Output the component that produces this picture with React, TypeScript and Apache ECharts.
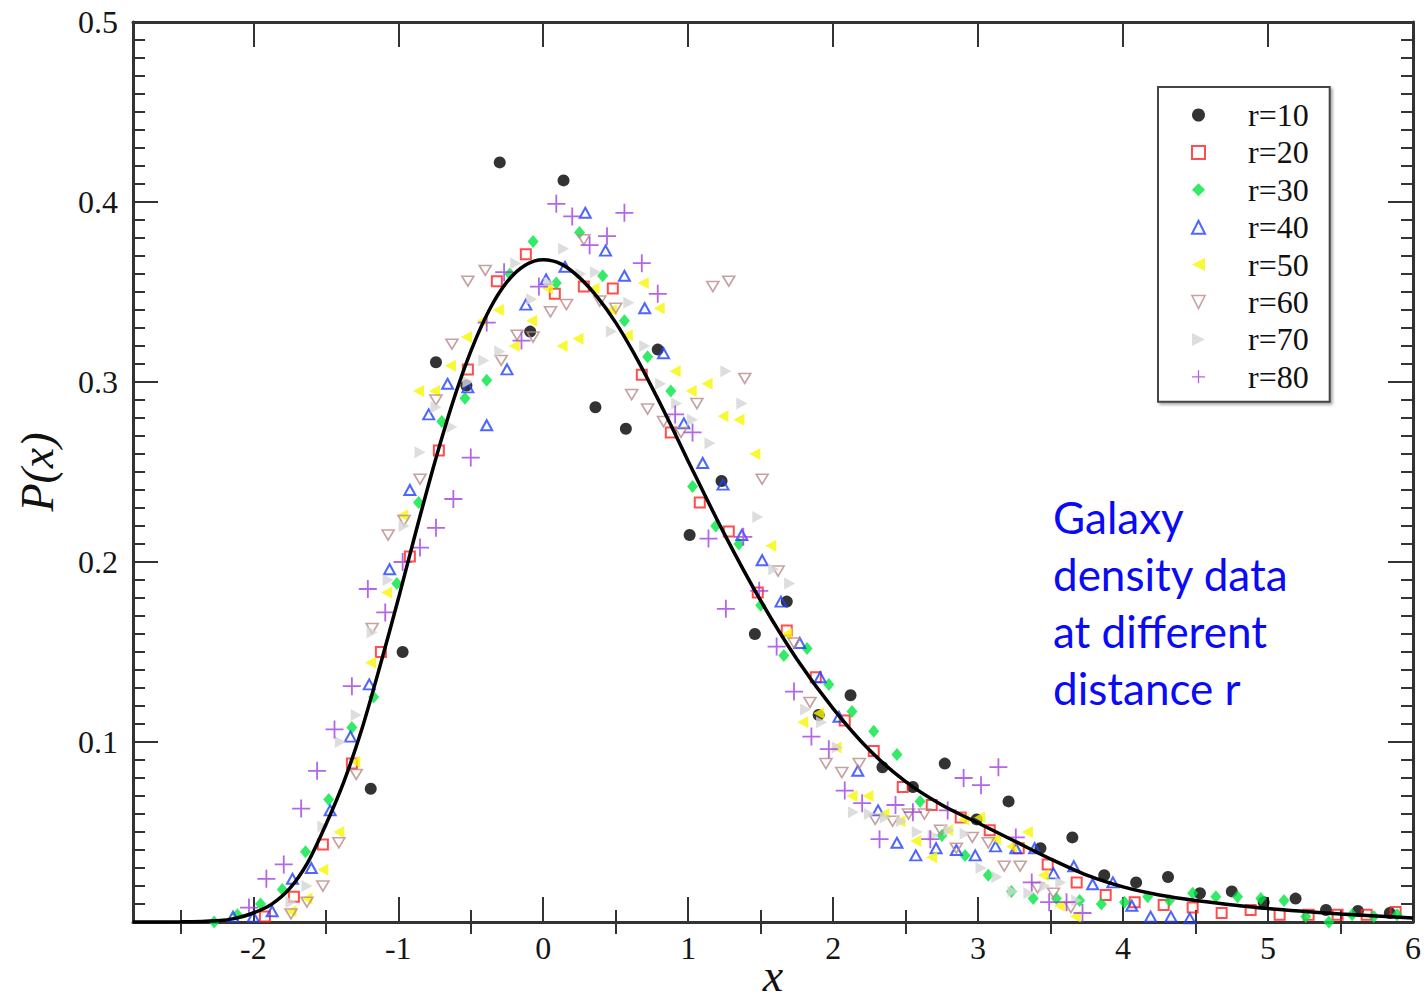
import React, { useEffect, useRef } from "react";
import * as echarts from "echarts";

const X_MIN = -2.83;
const X_MAX = 6;
const xMajor = [-2, -1, 0, 1, 2, 3, 4, 5, 6];
const xMinor = [-2.5, -1.5, -0.5, 0.5, 1.5, 2.5, 3.5, 4.5, 5.5];
const yLabels = [0.1, 0.2, 0.3, 0.4, 0.5];

const curve: [number, number][] = [
  [-2.83, 0], [-2.5, 0.0001], [-2.25, 0.0007], [-2.125, 0.002], [-2, 0.005], [-1.875, 0.0098],
  [-1.75, 0.0185], [-1.625, 0.033], [-1.5, 0.054], [-1.375, 0.078], [-1.25, 0.1075], [-1.125, 0.1425],
  [-1, 0.1794], [-0.875, 0.2179], [-0.75, 0.2549], [-0.625, 0.2885], [-0.5, 0.317], [-0.375, 0.3396],
  [-0.25, 0.3556], [-0.125, 0.3649], [0, 0.3679], [0.125, 0.3655], [0.25, 0.358], [0.375, 0.347],
  [0.5, 0.333], [0.625, 0.316], [0.75, 0.297], [0.875, 0.277], [1, 0.256], [1.25, 0.2155],
  [1.5, 0.1785], [1.75, 0.146], [2, 0.1185], [2.25, 0.0955], [2.5, 0.078], [2.75, 0.065],
  [3, 0.055], [3.25, 0.045], [3.5, 0.035], [3.75, 0.026], [4, 0.0195], [4.25, 0.015],
  [4.5, 0.012], [5, 0.0075], [5.5, 0.0045], [6, 0.0022],
];

const r10: [number, number][] = [
  [-1.19, 0.074], [-0.97, 0.15], [-0.74, 0.311], [-0.53, 0.298], [-0.3, 0.422], [-0.09, 0.328],
  [0.14, 0.412], [0.36, 0.286], [0.57, 0.274], [0.79, 0.318], [1.01, 0.215], [1.23, 0.245],
  [1.46, 0.16], [1.68, 0.178], [1.9, 0.115], [2.12, 0.126], [2.34, 0.086], [2.55, 0.075],
  [2.77, 0.088], [2.99, 0.057], [3.21, 0.067], [3.43, 0.041], [3.65, 0.047], [3.87, 0.026],
  [4.09, 0.022], [4.31, 0.025], [4.53, 0.016], [4.75, 0.017], [4.97, 0.011], [5.19, 0.013],
  [5.4, 0.0067], [5.62, 0.0061], [5.84, 0.005],
];

const r20: [number, number][] = [
  [-1.92, 0.003], [-1.72, 0.014], [-1.52, 0.043], [-1.32, 0.088], [-1.12, 0.15], [-0.92, 0.203],
  [-0.72, 0.262], [-0.52, 0.307], [-0.32, 0.356], [-0.12, 0.371], [0.08, 0.349], [0.28, 0.353],
  [0.48, 0.352], [0.68, 0.304], [0.88, 0.272], [1.08, 0.233], [1.28, 0.217], [1.48, 0.183],
  [1.68, 0.162], [1.88, 0.136], [2.08, 0.112], [2.28, 0.095], [2.48, 0.075], [2.68, 0.065],
  [2.88, 0.058], [3.08, 0.051], [3.28, 0.041], [3.48, 0.032], [3.68, 0.022], [3.88, 0.015],
  [4.08, 0.011], [4.28, 0.0095], [4.48, 0.008], [4.68, 0.005], [4.88, 0.0067], [5.08, 0.004],
  [5.28, 0.004], [5.48, 0.004], [5.68, 0.004], [5.88, 0.0056],
];

const r30: [number, number][] = [
  [-2.27, 0.0], [-2.11, 0.004], [-1.95, 0.01], [-1.8, 0.018], [-1.64, 0.039], [-1.48, 0.068],
  [-1.32, 0.108], [-1.17, 0.125], [-1.01, 0.188], [-0.86, 0.233], [-0.7, 0.278], [-0.54, 0.291],
  [-0.39, 0.301], [-0.23, 0.36], [-0.07, 0.378], [0.09, 0.355], [0.25, 0.383], [0.41, 0.359],
  [0.56, 0.334], [0.72, 0.314], [0.88, 0.295], [1.03, 0.242], [1.19, 0.22], [1.35, 0.21],
  [1.5, 0.176], [1.66, 0.148], [1.82, 0.152], [1.97, 0.132], [2.13, 0.117], [2.28, 0.106],
  [2.44, 0.093], [2.6, 0.067], [2.75, 0.048], [2.91, 0.037], [3.07, 0.026], [3.23, 0.017],
  [3.38, 0.013], [3.54, 0.013], [3.7, 0.012], [3.85, 0.01], [4.01, 0.011], [4.17, 0.014],
  [4.32, 0.012], [4.48, 0.016], [4.64, 0.014], [4.79, 0.014], [4.95, 0.013], [5.11, 0.012],
  [5.26, 0.003], [5.42, 0.0], [5.58, 0.004], [5.73, 0.003], [5.89, 0.004],
];

const r40: [number, number][] = [
  [-2.14, 0.003], [-2.0, 0.003], [-1.87, 0.006], [-1.73, 0.024], [-1.6, 0.03], [-1.47, 0.062],
  [-1.33, 0.103], [-1.2, 0.132], [-1.06, 0.196], [-0.92, 0.24], [-0.79, 0.282], [-0.66, 0.299],
  [-0.52, 0.297], [-0.39, 0.276], [-0.25, 0.307], [-0.12, 0.343], [0.02, 0.357], [0.15, 0.364],
  [0.29, 0.394], [0.43, 0.373], [0.56, 0.359], [0.7, 0.341], [0.83, 0.316], [0.97, 0.277],
  [1.1, 0.255], [1.24, 0.243], [1.37, 0.215], [1.51, 0.201], [1.64, 0.178], [1.77, 0.155],
  [1.91, 0.136], [2.04, 0.114], [2.17, 0.084], [2.31, 0.062], [2.44, 0.044], [2.57, 0.037],
  [2.71, 0.041], [2.85, 0.04], [2.98, 0.037], [3.12, 0.042], [3.26, 0.041], [3.39, 0.041],
  [3.52, 0.027], [3.66, 0.031], [3.79, 0.021], [3.93, 0.022], [4.06, 0.009], [4.19, 0.003],
  [4.33, 0.003], [4.46, 0.002],
];

const r50: [number, number][] = [
  [-1.74, 0.006], [-1.63, 0.013], [-1.52, 0.029], [-1.41, 0.05], [-1.3, 0.089], [-1.19, 0.144],
  [-1.08, 0.183], [-0.97, 0.226], [-0.86, 0.295], [-0.75, 0.295], [-0.64, 0.309], [-0.53, 0.325],
  [-0.42, 0.334], [-0.31, 0.34], [-0.2, 0.32], [-0.08, 0.334], [0.03, 0.352], [0.13, 0.32],
  [0.24, 0.324], [0.35, 0.352], [0.47, 0.34], [0.58, 0.326], [0.69, 0.355], [0.8, 0.341],
  [0.91, 0.306], [1.02, 0.295], [1.13, 0.299], [1.24, 0.281], [1.35, 0.279], [1.46, 0.26],
  [1.57, 0.209], [1.68, 0.16], [1.79, 0.111], [1.9, 0.116], [2.02, 0.097], [2.13, 0.07],
  [2.24, 0.07], [2.35, 0.06], [2.46, 0.056], [2.57, 0.045], [2.68, 0.036], [2.79, 0.051],
  [2.9, 0.057], [3.01, 0.058], [3.12, 0.046], [3.23, 0.042], [3.34, 0.05], [3.45, 0.026],
  [3.56, 0.009], [3.67, 0.003],
];

const r60: [number, number][] = [
  [-1.74, 0.0045], [-1.63, 0.011], [-1.52, 0.02], [-1.41, 0.044], [-1.29, 0.082], [-1.18, 0.163],
  [-1.07, 0.215], [-0.96, 0.223], [-0.85, 0.246], [-0.74, 0.29], [-0.63, 0.321], [-0.52, 0.356],
  [-0.4, 0.362], [-0.29, 0.312], [-0.18, 0.326], [-0.07, 0.325], [0.05, 0.339], [0.16, 0.343],
  [0.28, 0.379], [0.39, 0.345], [0.5, 0.341], [0.61, 0.293], [0.72, 0.285], [0.83, 0.278],
  [0.95, 0.272], [1.06, 0.288], [1.17, 0.353], [1.28, 0.356], [1.39, 0.302], [1.51, 0.246],
  [1.62, 0.195], [1.73, 0.155], [1.84, 0.122], [1.95, 0.088], [2.06, 0.083], [2.18, 0.088],
  [2.29, 0.057], [2.41, 0.056], [2.52, 0.06], [2.63, 0.06], [2.74, 0.051], [2.85, 0.041],
  [2.96, 0.047], [3.07, 0.044], [3.18, 0.031], [3.29, 0.031], [3.41, 0.019], [3.52, 0.016],
  [3.64, 0.008],
];

const r70: [number, number][] = [
  [-1.74, 0.011], [-1.63, 0.02], [-1.52, 0.053], [-1.4, 0.1], [-1.29, 0.115], [-1.18, 0.161],
  [-1.07, 0.19], [-0.96, 0.22], [-0.85, 0.261], [-0.74, 0.286], [-0.63, 0.275], [-0.52, 0.3],
  [-0.41, 0.312], [-0.3, 0.317], [-0.19, 0.366], [-0.08, 0.346], [0.04, 0.355], [0.14, 0.374],
  [0.26, 0.36], [0.36, 0.361], [0.47, 0.328], [0.59, 0.344], [0.7, 0.32], [0.81, 0.299],
  [0.92, 0.288], [1.03, 0.279], [1.15, 0.266], [1.26, 0.306], [1.37, 0.288], [1.48, 0.225],
  [1.59, 0.196], [1.7, 0.188], [1.81, 0.118], [1.92, 0.111], [2.03, 0.097], [2.14, 0.061],
  [2.25, 0.06], [2.36, 0.058], [2.47, 0.056], [2.58, 0.05], [2.69, 0.048], [2.8, 0.051],
  [2.91, 0.049], [3.02, 0.03], [3.13, 0.025], [3.24, 0.017], [3.35, 0.016], [3.46, 0.02],
  [3.57, 0.022], [3.68, 0.012],
];

const r80: [number, number][] = [
  [-2.03, 0.008], [-1.91, 0.024], [-1.79, 0.032], [-1.67, 0.063], [-1.56, 0.084], [-1.44, 0.107],
  [-1.32, 0.131], [-1.21, 0.185], [-1.09, 0.172], [-0.97, 0.2], [-0.85, 0.208], [-0.74, 0.219],
  [-0.62, 0.235], [-0.5, 0.258], [-0.39, 0.333], [-0.27, 0.361], [-0.15, 0.323], [-0.03, 0.353],
  [0.09, 0.399], [0.2, 0.392], [0.32, 0.376], [0.44, 0.381], [0.56, 0.394], [0.68, 0.366],
  [0.79, 0.349], [0.91, 0.282], [1.03, 0.272], [1.14, 0.213], [1.26, 0.174], [1.38, 0.214],
  [1.49, 0.184], [1.61, 0.153], [1.73, 0.128], [1.85, 0.103], [1.97, 0.096], [2.08, 0.073],
  [2.2, 0.066], [2.32, 0.046], [2.43, 0.065], [2.55, 0.061], [2.67, 0.046], [2.79, 0.062],
  [2.9, 0.08], [3.02, 0.076], [3.14, 0.086], [3.26, 0.047], [3.37, 0.022], [3.49, 0.011],
  [3.61, 0.011], [3.72, 0.005],
];

const seriesNames = ["r=10", "r=20", "r=30", "r=40", "r=50", "r=60", "r=70", "r=80"];
const annotation = "Galaxy\ndensity data\nat different\ndistance r";

const AX = "#333";
const SERIF = "'Liberation Serif', 'Times New Roman', serif";
const CROSS = "path://M9,0H11V20H9ZM0,9H20V11H0Z";
const TRI_UP = "path://M5,0L10,10L0,10Z";
const TRI_LEFT = "path://M0,5L10,0L10,10Z";
const TRI_DOWN = "path://M0,0L10,0L5,10Z";
const TRI_RIGHT = "path://M0,0L10,5L0,10Z";

export default function App() {
  const ref = useRef<HTMLDivElement>(null);
  useEffect(() => {
    if (!ref.current) return;
    const chart = echarts.init(ref.current, undefined, { renderer: "svg" });

    const xBase = {
      type: "value",
      min: X_MIN,
      max: X_MAX,
      splitLine: { show: false },
      axisLine: { show: true, onZero: false, lineStyle: { color: AX, width: 3 } },
    };
    const tickStyle = { color: AX, width: 2 };
    const yBase = {
      type: "value",
      min: 0,
      max: 0.5,
      interval: 0.1,
      splitLine: { show: false },
      axisLine: { show: true, onZero: false, lineStyle: { color: AX, width: 3 } },
      axisTick: { show: true, inside: true, length: 25, lineStyle: tickStyle },
      minorTick: { show: true, splitNumber: 10, length: 12, lineStyle: tickStyle },
    };

    const seriesStyles: any[] = [
      { symbol: "circle", symbolSize: 12, itemStyle: { color: "#000" } },
      {
        symbol: "rect",
        symbolSize: 10,
        itemStyle: { color: "transparent", borderColor: "#ff2020", borderWidth: 2 },
      },
      { symbol: "diamond", symbolSize: [11, 13], itemStyle: { color: "#00e640" } },
      {
        symbol: TRI_UP,
        symbolSize: [11, 10],
        itemStyle: { color: "transparent", borderColor: "#2040ff", borderWidth: 2 },
      },
      { symbol: TRI_LEFT, symbolSize: [11, 12], itemStyle: { color: "#f6f600" } },
      {
        symbol: TRI_DOWN,
        symbolSize: [12, 10],
        itemStyle: { color: "transparent", borderColor: "#b98a8a", borderWidth: 1.6 },
      },
      { symbol: TRI_RIGHT, symbolSize: [11, 12], itemStyle: { color: "#d4d4d4" } },
      { symbol: CROSS, symbolSize: 18, itemStyle: { color: "#a040e0" } },
    ];
    const seriesData = [r10, r20, r30, r40, r50, r60, r70, r80];

    const legendData = seriesNames.map((name, i) => ({
      name,
      icon: seriesStyles[i].symbol,
      itemStyle: seriesStyles[i].itemStyle,
    }));

    const option: any = {
      animation: false,
      backgroundColor: "#fff",
      grid: { left: 133, right: 13, top: 22, bottom: 77, containLabel: false, outerBoundsMode: "none" },
      xAxis: [
        {
          ...xBase,
          position: "bottom",
          axisTick: { show: true, inside: true, length: 25, customValues: xMajor, lineStyle: tickStyle },
          axisLabel: {
            show: true,
            customValues: xMajor,
            margin: 10,
            fontFamily: SERIF,
            fontSize: 32,
            color: "#151515",
            formatter: (v: number) => String(v),
          },
          name: "x",
          nameLocation: "middle",
          nameGap: 30,
          nameMoveOverlap: false,
          nameTextStyle: { fontFamily: SERIF, fontStyle: "italic", fontSize: 46, color: "#111" },
        },
        {
          ...xBase,
          position: "bottom",
          axisLine: { show: false },
          axisTick: { show: true, inside: true, length: 12, customValues: xMinor, lineStyle: tickStyle },
          axisLabel: { show: false },
        },
        {
          ...xBase,
          position: "top",
          axisTick: { show: true, inside: true, length: 25, customValues: xMajor, lineStyle: tickStyle },
          axisLabel: { show: false },
        },
        {
          ...xBase,
          position: "top",
          axisLine: { show: false },
          axisTick: { show: true, inside: true, length: 12, customValues: xMinor, lineStyle: tickStyle },
          axisLabel: { show: false },
        },
      ],
      yAxis: [
        {
          ...yBase,
          position: "left",
          axisLabel: {
            show: true,
            customValues: yLabels,
            margin: 15,
            fontFamily: SERIF,
            fontSize: 32,
            color: "#151515",
            formatter: (v: number) => (v === 0 ? "" : v.toFixed(1)),
          },
          name: "P(x)",
          nameLocation: "middle",
          nameRotate: 90,
          nameGap: 73,
          nameMoveOverlap: false,
          nameTextStyle: { fontFamily: SERIF, fontStyle: "italic", fontSize: 46, color: "#111" },
        },
        {
          ...yBase,
          position: "right",
          axisLabel: { show: false },
        },
      ],
      legend: {
        orient: "vertical",
        left: 1158,
        top: 87,
        padding: [12, 21, 9, 33],
        itemWidth: 13,
        itemHeight: 13,
        itemGap: 5.4,
        borderColor: "#444",
        borderWidth: 2,
        backgroundColor: "#fff",
        shadowColor: "rgba(0,0,0,0.35)",
        shadowBlur: 3,
        shadowOffsetX: 2,
        shadowOffsetY: 2,
        data: legendData,
        formatter: (n: string) => "{pad| }" + n,
        textStyle: {
          fontFamily: SERIF,
          fontSize: 32,
          lineHeight: 32,
          color: "#111",
          rich: { pad: { width: 38 } },
        },
      },
      graphic: [
        {
          type: "text",
          left: 1053,
          top: 488,
          style: {
            text: annotation,
            fontFamily: "Lato, 'Noto Sans', sans-serif",
            fontSize: 44,
            lineHeight: 57,
            fill: "#0a0af5",
          },
        },
      ],
      series: [
        ...seriesNames.map((name, i) => ({
          name,
          type: "scatter",
          data: seriesData[i],
          clip: false,
          ...seriesStyles[i],
        })),
        {
          name: "fit",
          type: "line",
          data: curve,
          smooth: 0.3,
          showSymbol: false,
          symbol: "none",
          z: 5,
          lineStyle: { color: "#000", width: 3.5 },
          silent: true,
        },
      ],
    };

    chart.setOption(option);
    return () => chart.dispose();
  }, []);

  return (
    <div
      ref={ref}
      style={{ position: "absolute", left: 0, top: 0, width: 1426, height: 999 }}
    />
  );
}
